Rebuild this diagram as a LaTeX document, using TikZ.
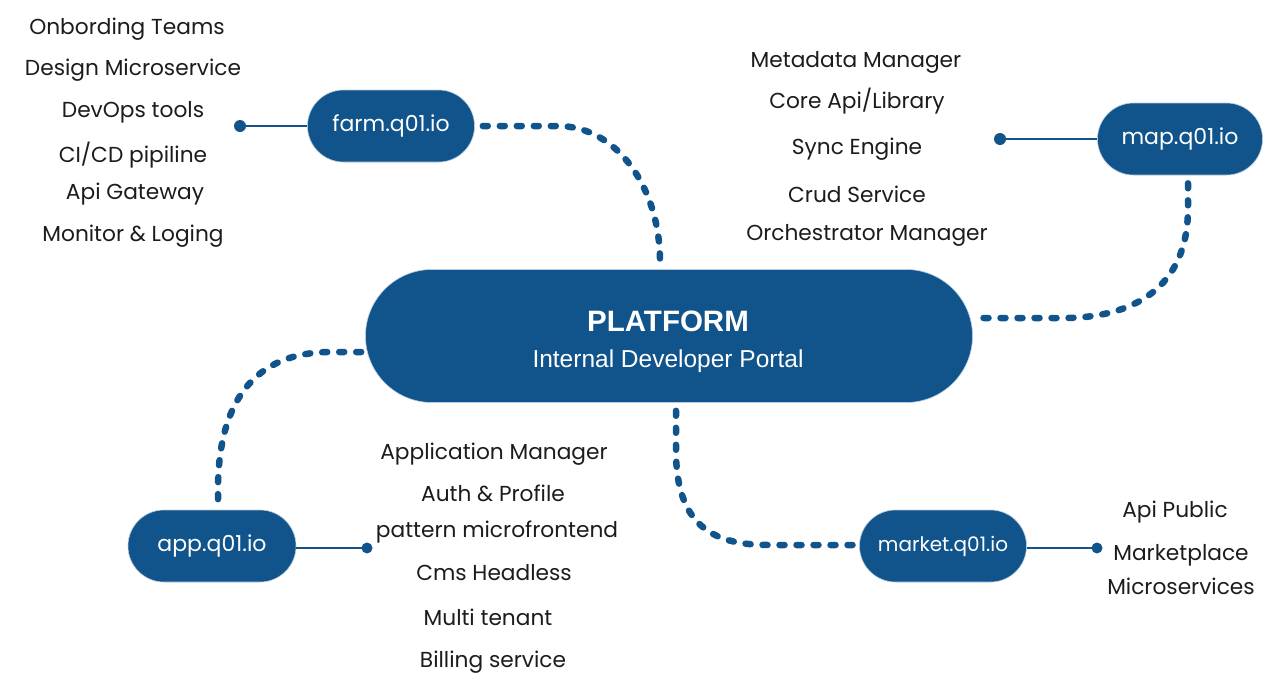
\documentclass[tikz,border=0pt]{standalone}
\usepackage{fontspec}
\setmainfont{Poppins}
\newfontfamily\arialfont{Liberation Sans}
\usetikzlibrary{calc,shapes.misc}
\definecolor{navy}{RGB}{16,84,139}
\definecolor{ink}{RGB}{28,28,28}
\begin{document}
\begin{tikzpicture}[x=1pt,y=-1pt,
  pill/.style={rounded rectangle, fill=navy, draw=white!70!navy, line width=0.6pt, inner sep=0pt,
    text=white, font=\fontsize{22}{26}\selectfont},
  item/.style={text=ink, inner sep=0pt, font=\fontsize{21.7}{25}\selectfont},
  link/.style={draw=navy, line width=2pt},
  dotlink/.style={draw=navy, line width=6.5pt, line cap=round, dash pattern=on 5pt off 12pt},
  enddot/.style={fill=navy}
]
\useasboundingbox[fill=white] (0,0) rectangle (1283,686);

% nodes
\node[pill, minimum width=167pt, minimum height=72pt] (farm) at (391,126) {farm.q01.io};
\node[pill, minimum width=165pt, minimum height=72pt] (map) at (1180,139) {map.q01.io};
\node[pill, minimum width=168pt, minimum height=72pt] (app) at (212,546) {app.q01.io};
\node[pill, minimum width=167pt, minimum height=72pt, font=\fontsize{20}{24}\selectfont] (market) at (943,546) {market.q01.io};
\node[pill, minimum width=607pt, minimum height=133pt] (plat) at (669,336) {};
\node[text=white, font=\arialfont\bfseries\fontsize{29.5}{33}\selectfont] (ptitle) at (668,321) {PLATFORM};
\node[text=white, font=\arialfont\fontsize{24.5}{28}\selectfont] (psub) at (668,361) {Internal Developer Portal};

% left list
\node[item] (l1) at (127,29) {Onbording Teams};
\node[item] (l2) at (133,70) {Design Microservice};
\node[item] (l3) at (133,112) {DevOps tools};
\node[item] (l4) at (133,155) {CI/CD pipiline};
\node[item] (l5) at (135,194) {Api Gateway};
\node[item] (l6) at (133,236) {Monitor \& Loging};

% right top list
\node[item] (r1) at (856,62) {Metadata Manager};
\node[item] (r2) at (857,101) {Core Api/Library};
\node[item] (r3) at (857,149) {Sync Engine};
\node[item] (r4) at (857,194) {Crud Service};
\node[item] (r5) at (867,235) {Orchestrator Manager};

% bottom list
\node[item] (b1) at (494,454) {Application Manager};
\node[item] (b2) at (493,493) {Auth \& Profile};
\node[item] (b3) at (497,532) {pattern microfrontend};
\node[item] (b4) at (494,573) {Cms Headless};
\node[item] (b5) at (488,617) {Multi tenant};
\node[item] (b6) at (493,662) {Billing service};

% market list
\node[item] (m1) at (1175,512) {Api Public};
\node[item] (m2) at (1181,555) {Marketplace};
\node[item] (m3) at (1181,586) {Microservices};

% solid connectors with end dots
\coordinate (fd) at (240,126);
\coordinate (md) at (1000,139);
\coordinate (ad) at (367,548);
\coordinate (kd) at (1097,548);
\draw[link] (farm.west) -- (fd);
\draw[link] (map.west) -- (md);
\draw[link] (app.east |- ad) -- (ad);
\draw[link] (market.east |- kd) -- (kd);
\fill[enddot] (fd) circle (6pt);
\fill[enddot] (md) circle (6pt);
\fill[enddot] (ad) circle (5.5pt);
\fill[enddot] (kd) circle (5.5pt);

% dotted connectors
\draw[dotlink] ($(farm.east)+(8,0)$) -- ++(75,0)
  .. controls ++(60,0) and ($(plat.north)+(-9,-80)$) .. ($(plat.north)+(-9,-8)$);
\draw[dotlink] ($(map.south)+(8,8)$) -- ++(0,25)
  .. controls ++(0,80) and ($(plat.east)+(160,-18)$) .. ($(plat.east)+(90,-18)$)
  -- ($(plat.east)+(3,-18)$);
\draw[dotlink] ($(plat.west)+(-4,16)$) -- ++(-30,0)
  .. controls ++(-90,0) and ($(app.north)+(6,-90)$) .. ($(app.north)+(6,-20)$)
  -- ($(app.north)+(6,-6)$);
\draw[dotlink] ($(plat.south)+(7,8)$) -- ++(0,40)
  .. controls ++(0,80) and ($(market.west)+(-140,-1)$) .. ($(market.west)+(-90,-1)$)
  -- ($(market.west)+(-3,-1)$);
\end{tikzpicture}
\end{document}
